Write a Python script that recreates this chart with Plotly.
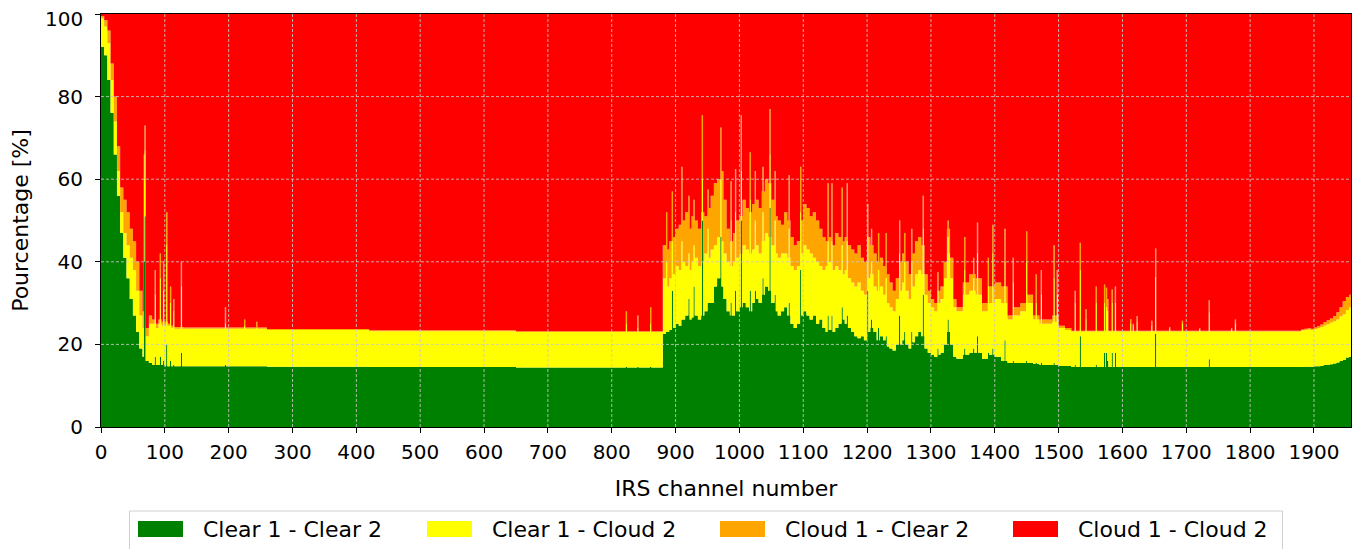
import numpy as np
import plotly.graph_objects as go

N_CHANNELS = 1958

# ---- Cumulative tops (%): green top, yellow top, orange top ----
# Region A: channels 0-129, blocks of 5 channels
a_start, a_step = 0, 5
a_green = [92, 90, 84, 76, 66, 56, 47, 41, 36, 31, 27, 23, 19, 17, 16, 15.5, 15, 15, 15, 15,
           14.7, 14.7, 14.7, 14.7, 14.7, 14.7]
a_yellow = [99, 97, 93, 84, 74, 62, 52, 47, 44, 41, 38, 33, 27, 24, 22, 25, 25, 24, 25, 24.5,
            24.5, 24.5, 24, 23.8, 23.8, 23.8]
a_orange = [99.5, 98.5, 96, 88, 80, 68, 58, 55, 52, 48, 45, 40, 33, 28, 24, 27, 26, 25, 26, 25.5,
            25.5, 25, 24.5, 24.2, 24.2, 24.2]

# Flat segments: (start, end, green top, yellow top, orange top)
flat_segments = [(130, 260, 14.7, 23.8, 24.1),
                 (260, 420, 14.6, 23.5, 23.7),
                 (420, 650, 14.5, 23.2, 23.4),
                 (650, 880, 14.4, 23.0, 23.2),
                 (1520, 1880, 14.5, 23.1, 23.3)]

# Region C: channels 880-1339, blocks of 5 channels
c_start, c_step = 880, 5
c_green = [22.5, 23, 23.5, 24, 25, 24.5, 26, 27, 26, 26.5, 27, 26, 27, 28, 30, 30, 34, 36, 34, 31,
           28, 27, 27, 28, 29, 30, 29, 28, 30, 31, 30, 32, 34, 33, 30, 28, 27, 28, 29, 27,
           25, 24, 25, 27, 28, 27, 26, 27, 25, 26, 24, 23, 23.5, 23, 24, 25, 26, 25, 24, 23,
           22, 21.5, 22, 21, 23, 24, 23, 21, 22, 21, 19.5, 19, 18.5, 20, 20, 21, 20, 19, 20.5, 22,
           23, 22, 19, 18, 17.5, 17, 17.5, 18, 20, 23, 20, 17]
c_yellow = [36, 34, 36, 37, 39, 38, 40, 39, 38, 40, 41, 39, 40, 42, 41, 43, 44, 46, 45, 42,
            40, 39, 40, 41, 42, 44, 43, 42, 43, 44, 42, 45, 47, 46, 44, 42, 41, 42, 42, 41,
            39, 38, 39, 42, 44, 43, 42, 41, 40, 39, 38, 39, 40, 38, 39, 38, 37, 38, 36, 35,
            34, 35, 33, 32, 36, 37, 34, 33, 34, 32, 30, 29, 28, 31, 33, 35, 33, 31, 34, 37,
            38, 37, 32, 30, 29, 28, 30, 31, 36, 42, 36, 29]
c_orange = [44, 43, 45, 46, 48, 49, 50, 52, 48, 51, 50, 48, 52, 51, 53, 56, 59, 60, 62, 55,
            48, 45, 47, 50, 51, 55, 53, 52, 54, 55, 53, 57, 60, 59, 55, 51, 50, 49, 52, 50,
            46, 44, 45, 50, 54, 53, 51, 52, 50, 48, 46, 45, 46, 44, 47, 46, 45, 46, 44, 43,
            42, 44, 41, 40, 46, 44, 42, 40, 41, 39, 37, 35, 33, 36, 40, 42, 40, 37, 42, 45,
            46, 44, 37, 33, 31, 30, 33, 34, 40, 48, 41, 31]

# Region C2: channels 1340-1519, blocks of 10 channels
c2_start, c2_step = 1340, 10
c2_green = [16.5, 17.5, 18, 18, 16.5, 17.5, 17, 16, 15.5, 15.5, 15.5, 15.5, 15.3, 15, 15, 15, 14.8, 14.8]
c2_yellow = [28, 32, 33, 32, 28, 30, 31, 30, 26, 27, 28, 30, 26, 25, 25, 25.5, 24, 23.5]
c2_orange = [29, 35, 37, 36, 30, 34, 35, 34, 27, 29, 30, 32, 27, 26, 26, 27, 24.5, 24]

# Region E: channels 1880-1957, blocks of 5 channels
e_start, e_step = 1880, 5
e_green = [14.5, 14.6, 14.6, 14.6, 14.7, 14.7, 14.8, 15, 15.1, 15.2, 15.4, 15.6, 16, 16.3, 16.8, 17]
e_yellow = [23.4, 23.5, 23.6, 23.5, 23.7, 23.9, 24.2, 24.6, 24.9, 25.3, 25.6, 26, 26.8, 27.3, 28.3, 29]
e_orange = [23.6, 23.8, 23.9, 23.8, 24.1, 24.4, 24.8, 25.4, 25.9, 26.3, 26.9, 27.8, 29, 30.5, 31.5, 32]

# Narrow spikes: channel, green top, yellow top, orange top
spike_channels = [67, 68, 84, 92, 97, 102, 108, 113, 125, 194, 224, 243, 822, 840, 860,
                  885, 894, 909, 920, 928, 941, 950, 970, 986, 993, 1002, 1016, 1024, 1036, 1047,
                  1055, 1077, 1095, 1138, 1144, 1160, 1168, 1200, 1206, 1217, 1229, 1250, 1258,
                  1269, 1287, 1310, 1326, 1352, 1366, 1372, 1389, 1396, 1415, 1428, 1449, 1464,
                  1472, 1492, 1497, 1525, 1533, 1542, 1558, 1571, 1574, 1576, 1583, 1588, 1612,
                  1616, 1622, 1645, 1651, 1673, 1693, 1720, 1735, 1770, 1776]
spike_green = [40, 51, 17, 17, 16, 20, 16, 15, 18, 15, 14.7, 14.7, 14.5, 14.5, 14.5,
               23, 33, 26, 31, 34, 50, 30, 46, 30, 33, 50, 33, 33, 36, 53,
               32, 30, 38, 27, 27, 29, 27, 33, 26, 24, 22, 27, 23,
               23, 32, 19, 26, 19, 19, 22, 18, 19, 21, 16, 16, 15.5,
               15.5, 15.5, 15, 15, 22, 14.6, 15, 18, 18, 16, 18, 18, 14.6,
               14.6, 14.6, 14.6, 22.5, 14.5, 14.5, 14.5, 16.4, 14.5, 14.5]
spike_yellow = [60, 67, 32, 36, 33, 44, 30, 28, 34, 25, 24.5, 24, 25, 24, 25,
                40, 45, 45, 42, 44, 60, 48, 60, 50, 52, 62, 55, 50, 52, 66,
                50, 48, 52, 45, 45, 44, 45, 46, 40, 38, 36, 42, 40,
                40, 48, 33, 46, 38, 36, 42, 34, 42, 40, 35, 40, 30,
                32, 36, 32, 30, 38, 26, 30, 30, 29, 28, 30, 30, 25,
                24.5, 25.5, 24.5, 36.3, 23.8, 25, 23.6, 27.7, 23.6, 25]
spike_orange = [66, 73, 38, 42, 40, 52, 34, 31, 40, 29, 26, 25.5, 28, 27, 29,
                52, 57, 63, 56, 55, 75.5, 57.5, 72.5, 59.5, 62.5, 75.5, 66.5, 62, 63, 77,
                62, 61, 63, 59, 59, 58, 59, 54, 48, 47, 47, 50, 47,
                48, 56, 37.5, 50, 46, 41, 49.5, 41, 49, 48, 41, 47.4, 37,
                38, 44, 38, 33, 44.6, 28.5, 34, 34.5, 33.7, 31, 33.3, 34, 26.1,
                25, 26.9, 25.7, 43.2, 24.2, 25.7, 23.9, 30.7, 24, 26]
SPIKE_WIDTH = 2

x_ticks = list(range(0, 2000, 100))
y_ticks = [0, 20, 40, 60, 80, 100]

categories = ["Clear 1 - Clear 2", "Clear 1 - Cloud 2", "Cloud 1 - Clear 2", "Cloud 1 - Cloud 2"]
colors = ["#008000", "#ffff00", "#ffa500", "#ff0000"]

# ---- Build per-channel table ----
G = np.zeros(N_CHANNELS)
YT = np.zeros(N_CHANNELS)
OT = np.zeros(N_CHANNELS)


def put_blocks(start, step, g, y, o):
    for i, (gv, yv, ov) in enumerate(zip(g, y, o)):
        s = start + i * step
        e = min(s + step, N_CHANNELS)
        G[s:e], YT[s:e], OT[s:e] = gv, yv, ov


put_blocks(a_start, a_step, a_green, a_yellow, a_orange)
for s, e, gv, yv, ov in flat_segments:
    G[s:e], YT[s:e], OT[s:e] = gv, yv, ov
put_blocks(c_start, c_step, c_green, c_yellow, c_orange)
put_blocks(c2_start, c2_step, c2_green, c2_yellow, c2_orange)
put_blocks(e_start, e_step, e_green, e_yellow, e_orange)
for c, gv, yv, ov in zip(spike_channels, spike_green, spike_yellow, spike_orange):
    G[c:c + SPIKE_WIDTH], YT[c:c + SPIKE_WIDTH], OT[c:c + SPIKE_WIDTH] = gv, yv, ov

series = [G, YT - G, OT - YT, 100 - OT]

x_edges = np.arange(N_CHANNELS + 1)

fig = go.Figure()
for name, vals, col in zip(categories, series, colors):
    fig.add_trace(go.Scatter(
        x=x_edges, y=np.append(vals, vals[-1]), name=name,
        mode="lines", stackgroup="one",
        line=dict(width=0, shape="hv", color=col),
        fillcolor=col, showlegend=False, hoverinfo="skip"))

FONT = "DejaVu Sans"
PAGE_OFF = 8  # default body margin of the written page
L, R, T, B = 101, 1351, 14, 427  # plot area in screenshot pixels
W, H = R - L, B - T


def px(xp):
    return (xp - L) / W


def py(yp):
    return (B - yp) / H


shapes = []
grid_style = dict(color="rgba(200,200,200,0.85)", width=1, dash="3px,2px")
for xv in x_ticks[1:]:
    shapes.append(dict(type="line", xref="x", yref="y", x0=xv, x1=xv, y0=0, y1=100,
                       line=grid_style, layer="above"))
for yv in y_ticks[1:-1]:
    shapes.append(dict(type="line", xref="x", yref="y", x0=0, x1=N_CHANNELS, y0=yv, y1=yv,
                       line=grid_style, layer="above"))

# Legend (drawn manually, matplotlib-like wide swatches)
shapes.append(dict(type="rect", xref="paper", yref="paper", x0=px(129.5), x1=px(1282.5),
                   y0=py(560), y1=py(511), line=dict(color="#d0d0d0", width=1),
                   fillcolor="white", layer="above"))
annotations = []
swatch_left = [138, 427, 720, 1013]
for name, col, sx in zip(categories, colors, swatch_left):
    shapes.append(dict(type="rect", xref="paper", yref="paper", x0=px(sx), x1=px(sx + 45),
                       y0=py(537), y1=py(521), line=dict(width=0), fillcolor=col, layer="above"))
    annotations.append(dict(text=name, xref="paper", yref="paper", x=px(sx + 63), y=py(529),
                            xanchor="left", yanchor="middle", showarrow=False,
                            font=dict(family=FONT, size=22, color="black")))

# Top y tick label as an annotation, nudged down a little so it is not clipped by the page edge
y_top_label = str(y_ticks[-1])
annotations.append(dict(text=y_top_label, xref="paper", yref="y", x=0, y=y_ticks[-1],
                        xanchor="right", yanchor="middle", xshift=-16, yshift=-5,
                        showarrow=False, font=dict(family=FONT, size=20, color="black")))
y_ticktext = [str(v) for v in y_ticks[:-1]] + [""]

fig.update_layout(
    width=1363, height=549,
    margin=dict(l=L - PAGE_OFF, r=1363 - R + PAGE_OFF, t=T - PAGE_OFF,
                b=549 - B + PAGE_OFF, autoexpand=False),
    paper_bgcolor="white", plot_bgcolor="white",
    font=dict(family=FONT, size=20, color="black"),
    shapes=shapes, annotations=annotations,
    showlegend=False,
)
fig.update_xaxes(
    range=[0, N_CHANNELS], tickvals=x_ticks, ticktext=[str(v) for v in x_ticks],
    ticks="outside", ticklen=5, tickcolor="black", showline=True, linecolor="black",
    linewidth=1, mirror=True, showgrid=False, zeroline=False, automargin=False,
    tickfont=dict(family=FONT, size=20), ticklabelstandoff=2, ticklabeloverflow="allow",
    title=dict(text="IRS channel number", font=dict(family=FONT, size=22), standoff=17),
)
fig.update_yaxes(
    range=[0, 100], tickvals=y_ticks, ticktext=y_ticktext,
    ticks="outside", ticklen=5, tickcolor="black", showline=True, linecolor="black",
    linewidth=1, mirror=True, showgrid=False, zeroline=False, automargin=False,
    tickfont=dict(family=FONT, size=20), ticklabelstandoff=8, ticklabeloverflow="allow",
    title=dict(text="Pourcentage [%]", font=dict(family=FONT, size=22), standoff=23),
)

fig.write_html("out.html")
